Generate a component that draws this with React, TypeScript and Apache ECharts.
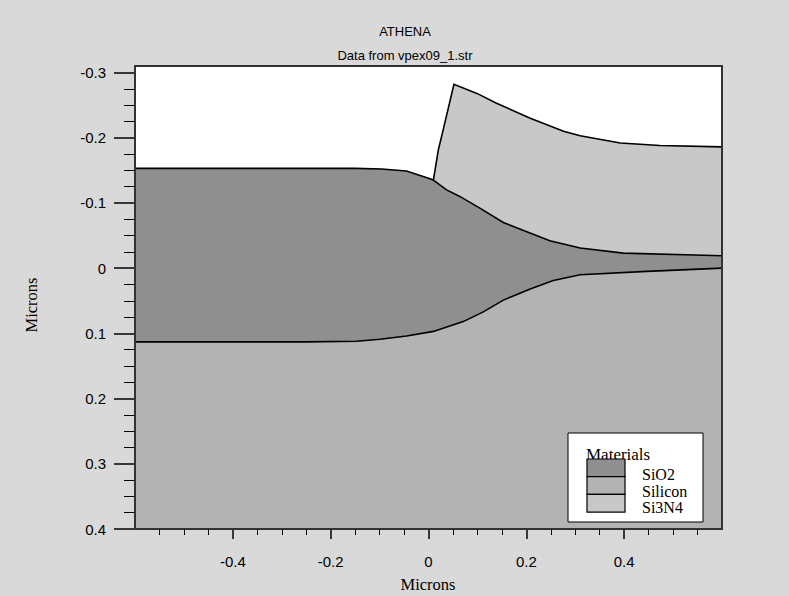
import React, { useEffect, useRef } from "react";
import * as echarts from "echarts";

// ---- axis ticks ----
const xMajorTicks = [-0.4, -0.2, 0, 0.2, 0.4];
const xMinorTicks = [-0.55, -0.5, -0.45, -0.35, -0.3, -0.25, -0.15, -0.1, -0.05, 0.05, 0.1, 0.15, 0.25, 0.3, 0.35, 0.45, 0.5, 0.55];
const yMajorTicks = [-0.3, -0.2, -0.1, 0, 0.1, 0.2, 0.3, 0.4];
const yMinorTicks = [-0.275, -0.25, -0.225, -0.175, -0.15, -0.125, -0.075, -0.05, -0.025, 0.025, 0.05, 0.075, 0.125, 0.15, 0.175, 0.225, 0.25, 0.275, 0.325, 0.35, 0.375];

// ---- material boundaries [x, y] in microns ----
const oxideSurface = [
  [-0.6, -0.153], [-0.15, -0.153], [-0.096, -0.152], [-0.045, -0.149], [0.003, -0.137], [0.01, -0.135],
];
const nitrideLeftEdge = [
  [0.01, -0.135], [0.02, -0.181], [0.03, -0.212], [0.052, -0.282],
];
const nitrideTop = [
  [0.052, -0.282], [0.099, -0.268], [0.139, -0.253], [0.208, -0.23], [0.276, -0.21], [0.31, -0.203], [0.392, -0.192], [0.473, -0.188], [0.6, -0.186],
];
const nitrideOxideInterface = [
  [0.01, -0.135], [0.037, -0.12], [0.064, -0.11], [0.105, -0.092], [0.153, -0.07], [0.201, -0.056], [0.248, -0.042], [0.31, -0.031], [0.398, -0.023], [0.6, -0.019],
];
const oxideSiliconInterface = [
  [-0.6, 0.113], [-0.249, 0.113], [-0.147, 0.112], [-0.099, 0.109], [-0.045, 0.104], [0.01, 0.097], [0.071, 0.082], [0.112, 0.067], [0.153, 0.049], [0.208, 0.032], [0.255, 0.019], [0.31, 0.01], [0.446, 0.005], [0.6, 0.0],
];

const materials = ["SiO2", "Silicon", "Si3N4"];
const materialColors = ["#8f8f8f", "#b3b3b3", "#c8c8c8"];

const X_MIN = -0.6, X_MAX = 0.6, Y_MIN = -0.31, Y_MAX = 0.4;

const siliconPoly = [...oxideSiliconInterface, [X_MAX, Y_MAX], [X_MIN, Y_MAX]];
const oxidePoly = [
  ...oxideSurface,
  ...nitrideOxideInterface.slice(1),
  ...[...oxideSiliconInterface].reverse(),
];
const nitridePoly = [
  ...nitrideLeftEdge,
  ...nitrideTop.slice(1),
  ...[...nitrideOxideInterface].reverse(),
];
const surfaceLine = [...oxideSurface, ...nitrideLeftEdge.slice(1), ...nitrideTop.slice(1)];

function polySeries(name: string, pts: number[][], color: string, z: number) {
  return {
    type: "custom",
    name,
    coordinateSystem: "cartesian2d",
    silent: true,
    clip: true,
    z,
    data: [[0, 0]],
    renderItem: (_p: any, api: any) => ({
      type: "polygon",
      shape: { points: pts.map((p) => api.coord(p)) },
      style: { fill: color, stroke: color, lineWidth: 0.5 },
    }),
  };
}

function lineSeries(name: string, pts: number[][], z: number) {
  return {
    type: "custom",
    name,
    coordinateSystem: "cartesian2d",
    silent: true,
    clip: true,
    z,
    data: [[0, 0]],
    renderItem: (_p: any, api: any) => ({
      type: "polyline",
      shape: { points: pts.map((p) => api.coord(p)) },
      style: { fill: null, stroke: "#000", lineWidth: 1.6 },
    }),
  };
}

export default function App() {
  const ref = useRef<HTMLDivElement>(null);
  useEffect(() => {
    document.body.style.margin = "0";
    const chart = echarts.init(ref.current!, null, { renderer: "svg" });
    const sans = "Liberation Sans";
    const serif = "Liberation Serif";
    const legendX = 568, legendY = 433;
    const swX = 587, swY = 459, swW = 38, swH = 17.7;
    const labelY = [474.8, 491.3, 507.8];
    const legendGraphics: any[] = [
      {
        type: "rect",
        shape: { x: legendX, y: legendY, width: 135, height: 89 },
        style: { fill: "#fff", stroke: "#000", lineWidth: 1 },
        z: 100,
      },
      {
        type: "text",
        x: 586,
        y: 454,
        style: { text: "Materials", font: `17px '${serif}'`, fill: "#000", verticalAlign: "middle", align: "left" },
        z: 101,
      },
    ];
    materials.forEach((m, i) => {
      legendGraphics.push({
        type: "rect",
        shape: { x: swX, y: swY + i * swH, width: swW, height: swH },
        style: { fill: materialColors[i], stroke: "#000", lineWidth: 1.2 },
        z: 101,
      });
      legendGraphics.push({
        type: "text",
        x: 642,
        y: labelY[i],
        style: { text: m, font: `16px '${serif}'`, fill: "#000", verticalAlign: "middle", align: "left" },
        z: 101,
      });
    });

    chart.setOption({
      animation: false,
      backgroundColor: "#d9d9d9",
      grid: {
        left: 135,
        top: 66,
        width: 587,
        height: 463,
        show: true,
        backgroundColor: "#fff",
        borderWidth: 0,
      },
      xAxis: [
        {
          type: "value",
          min: X_MIN,
          max: X_MAX,
          position: "bottom",
          axisLine: { show: false, onZero: false },
          splitLine: { show: false },
          axisTick: { show: true, customValues: xMajorTicks, length: 10, lineStyle: { color: "#000", width: 1.5 } },
          axisLabel: { customValues: xMajorTicks, margin: 25, fontFamily: sans, fontSize: 15, color: "#000" },
        },
        {
          type: "value",
          min: X_MIN,
          max: X_MAX,
          position: "bottom",
          axisLine: { show: false, onZero: false },
          splitLine: { show: false },
          axisTick: { show: true, customValues: xMinorTicks, length: 6, lineStyle: { color: "#000", width: 1 } },
          axisLabel: { show: false },
        },
      ],
      yAxis: [
        {
          type: "value",
          min: Y_MIN,
          max: Y_MAX,
          inverse: true,
          position: "left",
          axisLine: { show: false, onZero: false },
          splitLine: { show: false },
          axisTick: { show: true, customValues: yMajorTicks, length: 21, lineStyle: { color: "#000", width: 1.5 } },
          axisLabel: { customValues: yMajorTicks, margin: 29, fontFamily: sans, fontSize: 15, color: "#000" },
        },
        {
          type: "value",
          min: Y_MIN,
          max: Y_MAX,
          inverse: true,
          position: "left",
          axisLine: { show: false, onZero: false },
          splitLine: { show: false },
          axisTick: { show: true, customValues: yMinorTicks, length: 11, lineStyle: { color: "#000", width: 1 } },
          axisLabel: { show: false },
        },
      ],
      graphic: [
        {
          type: "text",
          x: 405,
          y: 31,
          style: { text: "ATHENA", font: `13px '${sans}'`, fill: "#000", align: "center", verticalAlign: "middle" },
        },
        {
          type: "text",
          x: 405,
          y: 55.5,
          style: { text: "Data from vpex09_1.str", font: `13px '${sans}'`, fill: "#000", align: "center", verticalAlign: "middle" },
        },
        {
          type: "text",
          x: 428,
          y: 584,
          style: { text: "Microns", font: `16.5px '${serif}'`, fill: "#000", align: "center", verticalAlign: "middle" },
        },
        {
          type: "text",
          x: 31,
          y: 305,
          rotation: Math.PI / 2,
          style: { text: "Microns", font: `16.5px '${serif}'`, fill: "#000", align: "center", verticalAlign: "middle" },
        },
        {
          type: "rect",
          shape: { x: 135, y: 66, width: 587, height: 463 },
          style: { fill: "none", stroke: "#333", lineWidth: 2 },
          z: 90,
        },
        ...legendGraphics,
      ],
      series: [
        polySeries("Silicon", siliconPoly, materialColors[1], 2),
        polySeries("SiO2", oxidePoly, materialColors[0], 3),
        polySeries("Si3N4", nitridePoly, materialColors[2], 4),
        lineSeries("surface", surfaceLine, 5),
        lineSeries("nitride-oxide", nitrideOxideInterface, 5),
        lineSeries("oxide-silicon", oxideSiliconInterface, 5),
      ],
    });
    return () => chart.dispose();
  }, []);
  return <div ref={ref} style={{ width: 789, height: 596 }} />;
}
